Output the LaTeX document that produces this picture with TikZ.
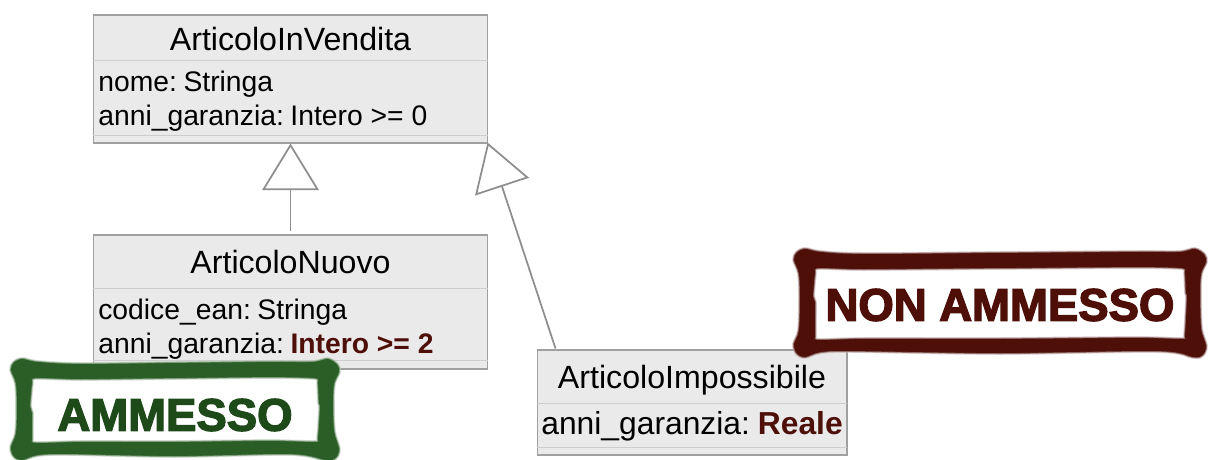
\documentclass[tikz,border=0pt]{standalone}
\usepackage{fontspec}
\setmainfont{Liberation Sans}
\newfontfamily\stampfont[BoldFeatures={FakeBold=3}]{Liberation Sans}
\usepackage{xcolor}
\usetikzlibrary{arrows.meta,calc}
\definecolor{boxfill}{RGB}{234,234,234}
\definecolor{boxline}{RGB}{160,160,160}
\definecolor{sepline}{RGB}{205,205,205}
\definecolor{arrowgray}{RGB}{142,142,142}
\definecolor{wronged}{RGB}{77,15,8}
\definecolor{okgreen}{RGB}{43,94,39}
\definecolor{okdark}{RGB}{30,74,26}
\tikzset{
  classbox/.style={draw=boxline,fill=boxfill,line width=0.6pt,inner sep=0pt},
  classname/.style={font=\fontsize{18.3}{20}\selectfont,anchor=base},
  attrib/.style={font=\fontsize{16.1}{18}\selectfont,anchor=base west,inner sep=0pt},
  bigattrib/.style={attrib,font=\fontsize{18.1}{20}\selectfont},
  stampword/.style={font=\fontsize{25.9}{30}\stampfont\bfseries,inner sep=0pt},
  genarrow/.style={draw=arrowgray,line width=1pt,-{Triangle[open,length=0.93cm,width=1.13cm]}},
}
\newcommand{\bad}[1]{\textcolor{wronged}{\textbf{#1}}}
\newcommand{\colonsp}{\hspace{-2.2pt} }
% #1 colour, #2-#5 left, top, right, bottom of the outer edge
\newcommand{\stampframe}[5]{
  \fill[#1,even odd rule,draw=#1!35,line width=1pt,draw opacity=.6]
    plot[smooth cycle,tension=.55] coordinates {
      (#2+12,#3) (#2+28,#3+3) (#2+70,#3+5) ($(#2,#3)!.5!(#4,#3)+(0,4)$) (#4-70,#3+3) (#4-28,#3+3) (#4-12,#3)
      (#4-2,#3+6) (#4,#3+14) (#4-5,#3+26) (#4-6,#3+45) (#4-5,#5-30) (#4,#5-12)
      (#4-4,#5-2) (#4-14,#5) (#4-50,#5-6) ($(#2,#5)!.5!(#4,#5)+(0,-4)$) (#2+60,#5-6) (#2+28,#5-5) (#2+12,#5)
      (#2+3,#5-4) (#2,#5-14) (#2+5,#5-28) (#2+6,#3+50) (#2+5,#3+26) (#2,#3+12) (#2+3,#3+4)
    }
    plot[smooth cycle,tension=.4] coordinates {
      (#2+26,#3+21) (#2+70,#3+22) ($(#2,#3)!.5!(#4,#3)+(0,21)$) (#4-70,#3+20) (#4-26,#3+21)
      (#4-23,#3+25) (#4-22,#3+45) (#4-21,#3+50) (#4-23,#5-23)
      (#4-26,#5-20) (#4-70,#5-21) ($(#2,#5)!.5!(#4,#5)+(0,-20)$) (#2+70,#5-20) (#2+26,#5-19)
      (#2+23,#5-23) (#2+23,#3+55) (#2+21,#3+48) (#2+23,#3+25)
    };
}
\begin{document}
\begin{tikzpicture}[x=0.02cm,y=-0.02cm,>=Stealth]
\useasboundingbox (0,0) rectangle (1218,460);
% class boxes
\node[classbox,minimum width=7.9cm,minimum height=2.56cm] (vendita) at (290.5,79) {};
\node[classbox,minimum width=7.9cm,minimum height=2.68cm] (nuovo) at (290.5,302) {};
\node[classbox,minimum width=6.2cm,minimum height=2.1cm] (impossibile) at (692,402.5) {};
\draw[sepline] (93,60) -- (488,60);
\draw[sepline] (93,135) -- (488,135);
\draw[sepline] (93,288) -- (488,288);
\draw[sepline] (93,360) -- (488,360);
\draw[sepline] (537,403) -- (847,403);
\draw[sepline] (537,447) -- (847,447);
% texts
\node[classname] (venditaname) at (290.5,50) {ArticoloInVendita};
\node[attrib] (venditanome) at (98,91) {nome:\colonsp Stringa};
\node[attrib] (venditaanni) at (98,125) {anni\_garanzia:\colonsp Intero >= 0};
\node[classname] (nuovoname) at (290.5,273) {ArticoloNuovo};
\node[attrib] (nuovoean) at (98,319) {codice\_ean:\colonsp Stringa};
\node[attrib] (nuovoanni) at (98,353) {anni\_garanzia:\colonsp \bad{Intero >= 2}};
\node[classname] (impossibilename) at (692,388) {ArticoloImpossibile};
\node[bigattrib] (impossibileanni) at (541,434) {anni\_garanzia:\colonsp \bad{Reale}};
% generalisations
\draw[genarrow] ($(nuovo.north)+(0,-3)$) -- (vendita.south);
\draw[genarrow] ($(impossibile.north west)+(19,-1)$) -- ($(vendita.south east)+(-1,-1)$);
% stamps
\stampframe{okgreen}{10}{358}{340}{461}
\node[stampword,text=okdark] (ammesso) at (175,415) {AMMESSO};
\stampframe{wronged}{793}{248}{1207}{358}
\node[stampword,text=wronged] (nonammesso) at (1000,305) {NON AMMESSO};
\end{tikzpicture}
\end{document}
